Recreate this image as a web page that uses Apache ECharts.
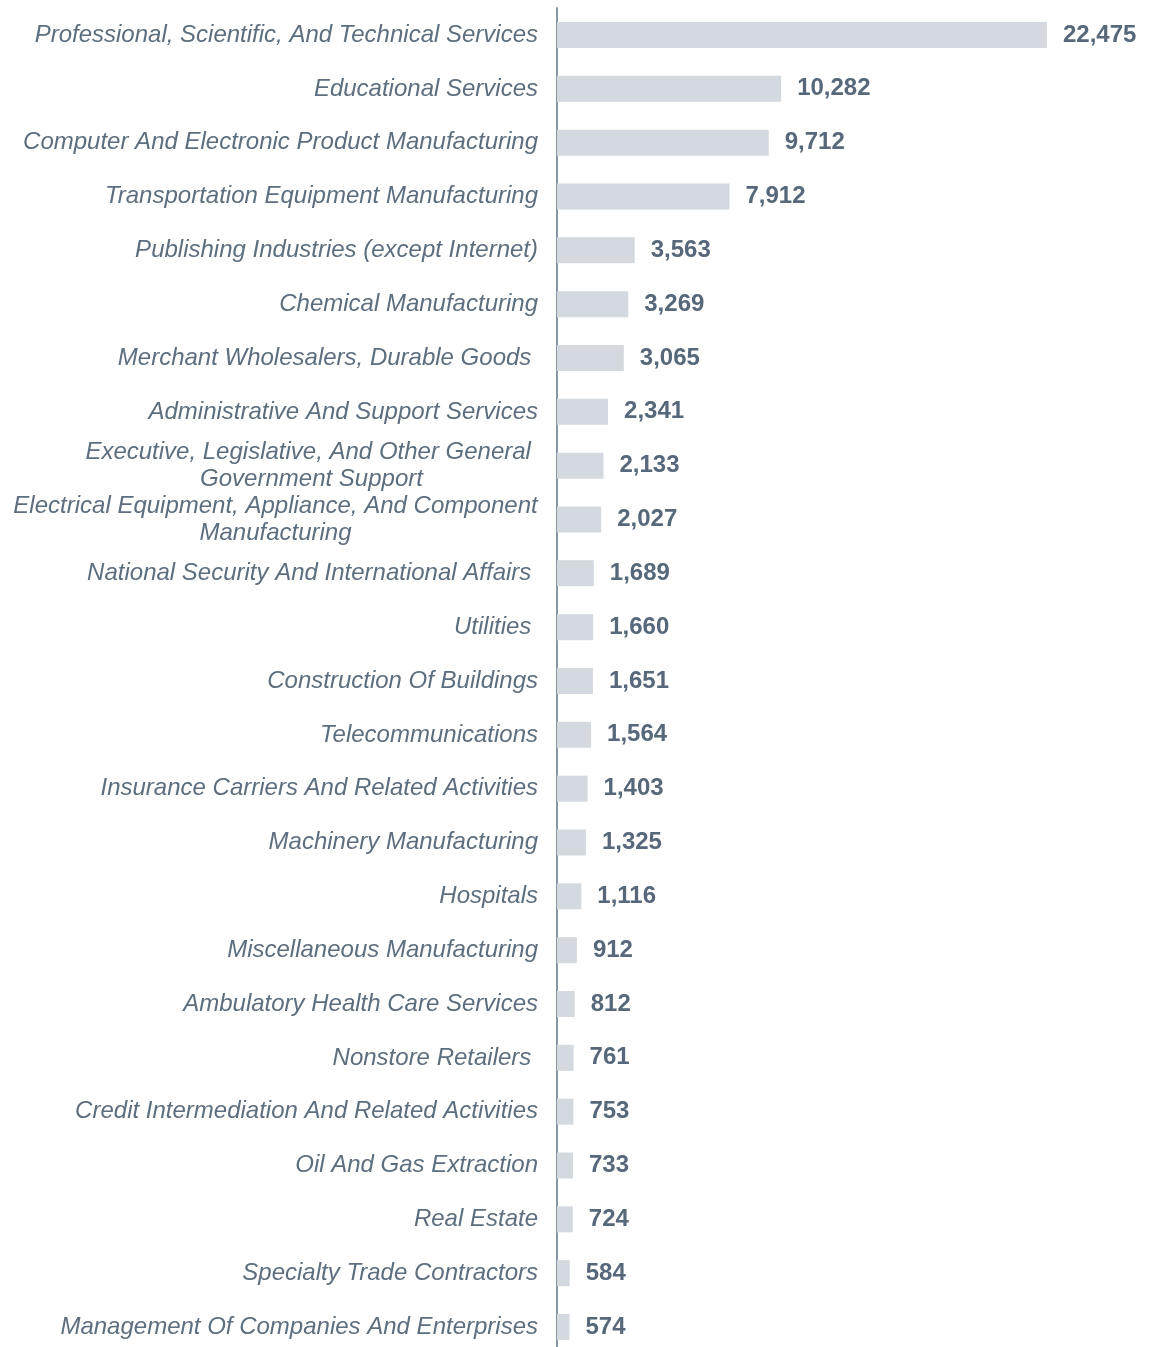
<!DOCTYPE html>
<html>
<head>
<meta charset="utf-8">
<script src="https://cdn.jsdelivr.net/npm/echarts@6/dist/echarts.min.js"></script>
<style>
  html, body { margin: 0; padding: 0; background: #fff; }
  #chart { width: 1156px; height: 1347px; }
</style>
</head>
<body>
<div id="chart"></div>
<script>
// categories, top to bottom
const categories = [
  "Professional, Scientific, And Technical Services",
  "Educational Services",
  "Computer And Electronic Product Manufacturing",
  "Transportation Equipment Manufacturing",
  "Publishing Industries (except Internet)",
  "Chemical Manufacturing",
  "Merchant Wholesalers, Durable Goods ",
  "Administrative And Support Services",
  "Executive, Legislative, And Other General \nGovernment Support",
  "Electrical Equipment, Appliance, And Component\nManufacturing",
  "National Security And International Affairs ",
  "Utilities ",
  "Construction Of Buildings",
  "Telecommunications",
  "Insurance Carriers And Related Activities",
  "Machinery Manufacturing",
  "Hospitals",
  "Miscellaneous Manufacturing",
  "Ambulatory Health Care Services",
  "Nonstore Retailers ",
  "Credit Intermediation And Related Activities",
  "Oil And Gas Extraction",
  "Real Estate",
  "Specialty Trade Contractors",
  "Management Of Companies And Enterprises"
];
const values = [
  22475, 10282, 9712, 7912, 3563, 3269, 3065, 2341, 2133, 2027,
  1689, 1660, 1651, 1564, 1403, 1325, 1116, 912, 812, 761,
  753, 733, 724, 584, 574
];

const labelFont = "'Liberation Sans', Arial, sans-serif";
const labelSize = 24;
const labelColor = "#5d6e7f";

// width of the longest line, so wrapped labels can centre their lines
const ctx = document.createElement("canvas").getContext("2d");
ctx.font = "italic " + labelSize + "px " + labelFont;
const rich = {
  s: { fontFamily: labelFont, fontStyle: "italic", fontSize: labelSize, color: labelColor, lineHeight: 27 }
};
categories.forEach((c, i) => {
  const lines = c.split("\n");
  if (lines.length > 1) {
    const w = Math.max(...lines.map(l => ctx.measureText(l).width));
    rich["m" + i] = {
      fontFamily: labelFont, fontStyle: "italic", fontSize: labelSize, color: labelColor,
      lineHeight: 27, align: "center", width: Math.ceil(w)
    };
  }
});

const chart = echarts.init(document.getElementById("chart"));

chart.setOption({
  animation: false,
  grid: [
    { left: 557, top: 35, width: 545, height: 1292, containLabel: false },
    // second grid only carries the full-height axis line
    { left: 557, top: 8, width: 545, height: 1339, containLabel: false }
  ],
  xAxis: [
    { type: "value", min: 0, max: 25000, show: false, gridIndex: 0 },
    { type: "value", min: 0, max: 1, show: false, gridIndex: 1 }
  ],
  yAxis: [
    {
      type: "category",
      gridIndex: 0,
      inverse: true,
      boundaryGap: false,
      data: categories,
      axisLine: { show: false },
      axisTick: { show: false },
      axisLabel: {
        margin: 19,
        interval: 0,
        formatter: function (v, i) {
          const lines = v.split("\n");
          if (lines.length === 1) return "{s|" + v + "}";
          return lines.map(l => "{m" + i + "|" + l + "}").join("\n");
        },
        rich: rich
      }
    },
    {
      type: "value",
      gridIndex: 1,
      min: 0,
      max: 1,
      axisLine: { show: true, lineStyle: { color: "#8a96a3", width: 2 } },
      axisTick: { show: false },
      axisLabel: { show: false },
      splitLine: { show: false }
    }
  ],
  series: [{
    type: "bar",
    xAxisIndex: 0,
    yAxisIndex: 0,
    data: values,
    barWidth: 26,
    itemStyle: { color: "#d3d9df" },
    label: {
      show: true,
      position: "right",
      distance: 16,
      fontFamily: labelFont,
      fontWeight: "bold",
      fontSize: 24,
      color: "#56687a",
      formatter: p => p.value.toLocaleString("en-US")
    }
  }]
});
</script>
</body>
</html>
